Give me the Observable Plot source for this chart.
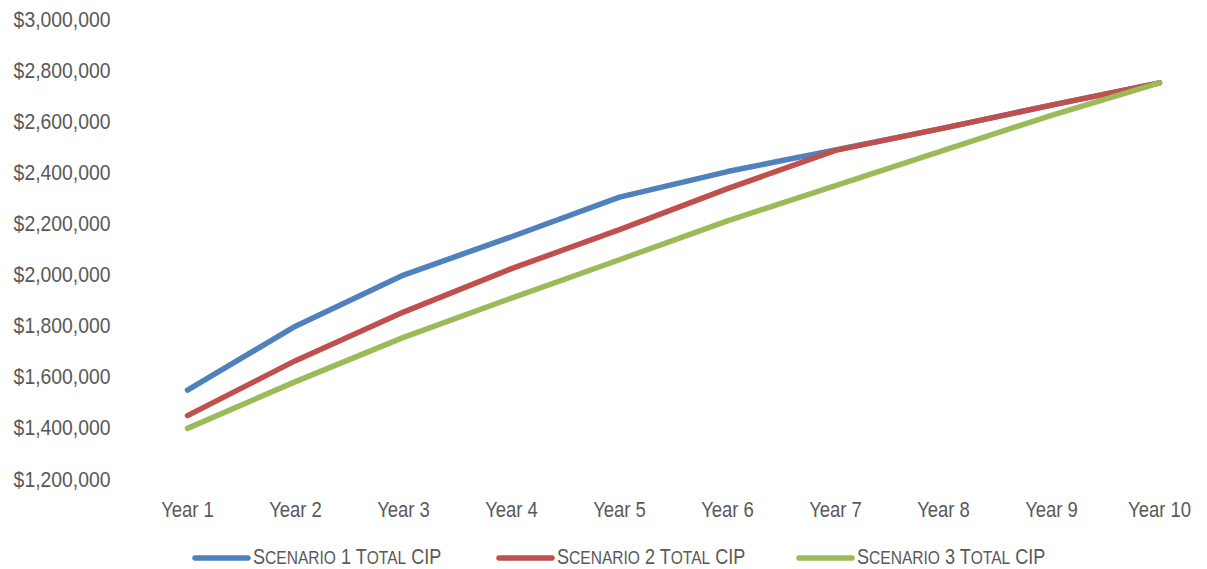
<!DOCTYPE html>
<html>
<head>
<meta charset="utf-8">
<script src="https://cdn.jsdelivr.net/npm/d3@7"></script>
<script src="https://cdn.jsdelivr.net/npm/@observablehq/plot@0.6"></script>
<style>
  html, body { margin: 0; padding: 0; background: #fff; }
  body { width: 1207px; height: 569px; position: relative; overflow: hidden;
         font-family: "Liberation Sans", Arial, sans-serif; }
  #chart { position: absolute; left: 0; top: 0; }
  #legend { position: absolute; top: 540px; left: 0; line-height: 0; }
  .sc { text-transform: uppercase; }
</style>
</head>
<body>
<div id="chart"></div>
<div id="legend"></div>
<script>
const years = ["Year 1","Year 2","Year 3","Year 4","Year 5","Year 6","Year 7","Year 8","Year 9","Year 10"];
const seriesNames = ["Scenario 1 Total CIP","Scenario 2 Total CIP","Scenario 3 Total CIP"];
const scenario1 = [1550000,1800000,2000000,2150000,2305000,2405000,2490000,2575000,2665000,2752000];
const scenario2 = [1450000,1665000,1855000,2025000,2178000,2338000,2488000,2575000,2665000,2752000];
const scenario3 = [1400000,1583000,1756000,1910000,2060000,2212000,2350000,2488000,2625000,2752000];
const colors = ["#4f81bd","#c0504d","#9bbb59"];
const yTicks = [1200000,1400000,1600000,1800000,2000000,2200000,2400000,2600000,2800000,3000000];

const allSeries = [scenario1, scenario2, scenario3];
const data = [];
allSeries.forEach((vals, si) => vals.forEach((v, i) => data.push({year: years[i], value: v, series: seriesNames[si]})));

const fmt = d3.format("$,");
const chart = Plot.plot({
  width: 1207,
  height: 540,
  marginTop: 19,
  marginBottom: 61,
  marginLeft: 133,
  marginRight: 0,
  style: {fontFamily: '"Liberation Sans", Arial, sans-serif', fontSize: "22px", color: "#595959", background: "#fff"},
  x: {type: "point", domain: years, range: [133, 1213], padding: 0.5, label: null},
  y: {domain: [1200000, 3000000], label: null},
  color: {domain: seriesNames, range: colors},
  marks: [
    Plot.ruleY(yTicks, {stroke: "#d9d9d9", strokeWidth: 1.5, x1: 133, x2: 1207}),
    Plot.axisY({ticks: yTicks, tickFormat: fmt, tickSize: 0, tickPadding: 23, label: null, fill: "#595959", ariaLabel: "y-axis"}),
    Plot.axisX({tickSize: 0, tickPadding: 22, label: null, fill: "#595959", ariaLabel: "x-axis"}),
    Plot.line(data, {x: "year", y: "value", z: "series", stroke: "series", strokeWidth: 5.5, strokeLinecap: "round", strokeLinejoin: "round", curve: "linear"})
  ]
});
// Narrow the axis text (Arial Narrow look) around each label's anchor point
chart.querySelectorAll("text").forEach(t => {
  const tr = t.getAttribute("transform");
  if (!tr) return;
  const isY = t.closest('[aria-label^="y-axis"]') !== null;
  t.setAttribute("transform", tr + (isY ? " scale(0.88,1)" : " scale(0.84,1)"));
});
document.getElementById("chart").appendChild(chart);

// Legend (separate small SVG below the chart)
const legendX = [193, 497, 797];
const svg = d3.select("#legend").append("svg")
  .attr("width", 1207).attr("height", 29)
  .style("font-family", '"Liberation Sans", Arial, sans-serif');
seriesNames.forEach((name, i) => {
  const g = svg.append("g");
  g.append("line")
    .attr("x1", legendX[i] + 2).attr("x2", legendX[i] + 55)
    .attr("y1", 18).attr("y2", 18)
    .attr("stroke", colors[i]).attr("stroke-width", 5.5).attr("stroke-linecap", "round");
  const text = g.append("text")
    .attr("transform", `translate(${legendX[i] + 60},24) scale(0.82,1)`)
    .attr("fill", "#595959")
    .attr("font-size", 22);
  const parts = name.match(/[a-z]+|[^a-z]+/g);
  parts.forEach(p => {
    const lower = /^[a-z]+$/.test(p);
    text.append("tspan")
      .attr("class", lower ? "sc" : null)
      .attr("font-size", lower ? 19 : 22)
      .text(p);
  });
});
</script>
</body>
</html>
